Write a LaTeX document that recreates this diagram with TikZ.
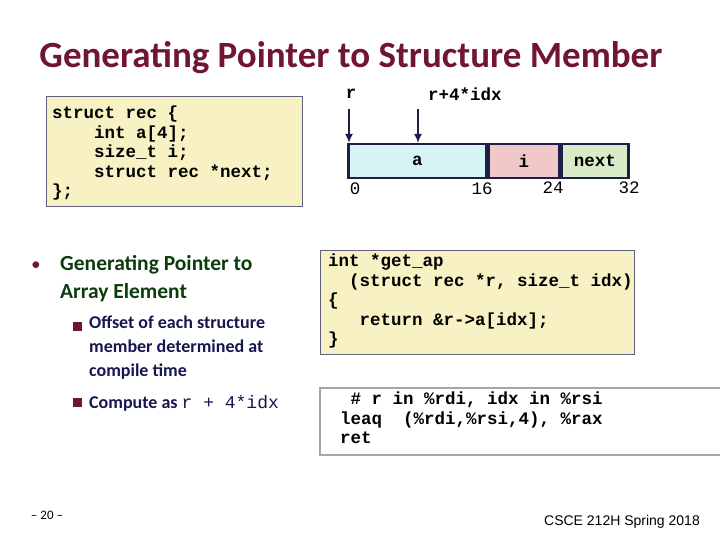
\documentclass[tikz,border=0pt]{standalone}
\usepackage{fontspec}
\usetikzlibrary{arrows.meta}
\setmainfont{Carlito}
\setmonofont{Liberation Mono}
\newfontfamily\arial{Liberation Sans}
\definecolor{titlec}{RGB}{112,22,52}
\definecolor{bulg}{RGB}{12,60,12}
\definecolor{navyt}{RGB}{22,22,80}
\definecolor{codey}{RGB}{247,241,196}
\definecolor{boxb}{RGB}{30,30,70}
\definecolor{ca}{RGB}{214,244,244}
\definecolor{ci}{RGB}{240,200,200}
\definecolor{cn}{RGB}{216,236,200}
\begin{document}
\begin{tikzpicture}[x=1pt,y=-1pt,
  code/.style={font=\ttfamily\bfseries\fontsize{17.5}{19.5}\selectfont,align=left,anchor=north west,inner sep=0},
  mem/.style={draw=boxb,line width=2.5pt,minimum height=34pt,font=\ttfamily\bfseries\fontsize{17.5}{17.5}\selectfont,inner sep=0},
  num/.style={font=\ttfamily\fontsize{17.5}{17.5}\selectfont},
  arr/.style={-{Latex[length=9pt,width=8pt]},line width=2pt,draw=boxb}]
\useasboundingbox (0,0) rectangle (720,540);
\node[font=\bfseries\fontsize{37}{37}\selectfont,text=titlec] (title) at (351,58) {Generating Pointer to Structure Member};
% struct box
\draw[fill=codey,draw=boxb!70,line width=1pt] (46,97) rectangle (302,207);
\node[code] (st) at (52,106) {struct rec \{\\\ \ \ \ int a[4];\\\ \ \ \ size\_t i;\\\ \ \ \ struct rec *next;\\\};};
% memory
\node[mem,fill=ca,minimum width=138pt,anchor=north west] (a) at (347,143) {a};
\node[mem,fill=ci,minimum width=70pt,anchor=west] (i) at (a.east) {i};
\node[mem,fill=cn,minimum width=67pt,anchor=west] (n) at (i.east) {next};
\node[code,anchor=center] (r) at (351,94) {r};
\node[code,anchor=center] (r4) at (465,94) {r+4*idx};
\coordinate (ra) at (349,109);
\coordinate (rb) at (349,143);
\coordinate (qa) at (418,109);
\coordinate (qb) at (418,143);
\draw[arr] (ra) -- (rb);
\draw[arr] (qa) -- (qb);
\node[num] (n0) at (355,189) {0};
\node[num] (n16) at (482,189) {16};
\node[num] (n24) at (553,188) {24};
\node[num] (n32) at (629,188) {32};
% get_ap
\draw[fill=codey,draw=boxb!70,line width=1pt] (320,250) rectangle (634,354);
\node[code] (ga) at (328,254) {int *get\_ap\\\ \ (struct rec *r, size\_t idx)\\\{\\\ \ \ return \&r->a[idx];\\\}};
% asm
\draw[fill=white,draw=gray!70,line width=1.5pt] (320,388) rectangle (721,455);
\node[code] (asm) at (340,392) {\ \# r in \%rdi, idx in \%rsi\\leaq\ \ (\%rdi,\%rsi,4), \%rax\\ret};
% bullets
\node[text=titlec,font=\fontsize{18}{18}\selectfont] (b1) at (36,266) {$\bullet$};
\node[text=bulg,font=\bfseries\fontsize{21.5}{28}\selectfont,align=left,anchor=north west,inner sep=0] (t1) at (60,255) {Generating Pointer to\\Array Element};
\fill[titlec] (73,322) rectangle (82,331);
\fill[titlec] (73,398) rectangle (82,407);
\node[text=navyt,font=\bfseries\fontsize{18}{24}\selectfont,align=left,anchor=north west,inner sep=0] (t2) at (89,316) {Offset of each structure\\member determined at\\compile time};
\node[text=navyt,font=\bfseries\fontsize{18}{24}\selectfont,anchor=west,inner sep=0] (t3) at (89,403) {Compute as \texttt{\mdseries r + 4*idx}};
\node[font=\fontsize{13}{13}\selectfont] (pg) at (47,515) {-- 20 --};
\node[font=\arial\fontsize{14}{14}\selectfont] (ft) at (622,522) {CSCE 212H Spring 2018};
\end{tikzpicture}
\end{document}
